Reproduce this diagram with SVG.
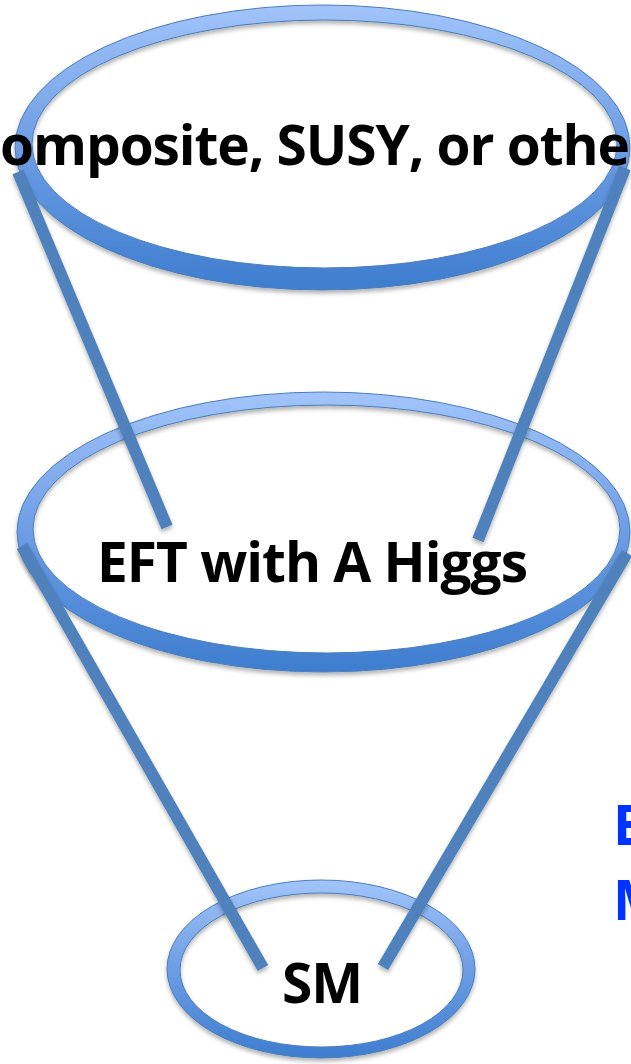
<svg xmlns="http://www.w3.org/2000/svg" width="631" height="1064" viewBox="0 0 631 1064">
<defs>
<linearGradient id="ringGrad" x1="0" y1="0" x2="0" y2="1">
<stop offset="0" stop-color="#A2C4FA"/>
<stop offset="0.5" stop-color="#6D9DE4"/>
<stop offset="1" stop-color="#3E7DCF"/>
</linearGradient>
<filter id="shadow" x="-5%" y="-5%" width="110%" height="115%">
<feDropShadow dx="0" dy="3" stdDeviation="2" flood-color="#000" flood-opacity="0.3"/>
</filter>
</defs>
<style>
.ring{fill:url(#ringGrad);fill-rule:evenodd;stroke:#4A7EBB;stroke-width:1;filter:url(#shadow)}
.conn{stroke:#4F81BD;stroke-width:12;fill:none;filter:url(#shadow)}
.lbl{font-family:"Open Sans","Liberation Sans",sans-serif;font-weight:bold;font-size:55px;fill:#000}
.blue{font-family:"Open Sans","Liberation Sans",sans-serif;font-weight:bold;font-size:55px;fill:#0033FF}
</style>
<rect width="631" height="1064" fill="#fff"/>
<g id="node-top">
<path class="ring" d="M15,147.5 a307.5,142.5 0 1,0 615,0 a307.5,142.5 0 1,0 -615,0 Z M32,144 a292.5,124 0 1,0 585,0 a292.5,124 0 1,0 -585,0 Z"/>
</g>
<g id="node-eft">
<path class="ring" d="M17,532 a306.5,140 0 1,0 613,0 a306.5,140 0 1,0 -613,0 Z M33,529 a293.5,124 0 1,0 587,0 a293.5,124 0 1,0 -587,0 Z"/>
</g>
<g id="node-sm">
<path class="ring" d="M167,969 a154,89 0 1,0 308,0 a154,89 0 1,0 -308,0 Z M180,970 a141.5,77 0 1,0 283,0 a141.5,77 0 1,0 -283,0 Z"/>
</g>
<g id="connectors">
<line class="conn" x1="18" y1="172" x2="167" y2="527"/>
<line class="conn" x1="625" y1="168" x2="478" y2="540"/>
<line class="conn" x1="22" y1="546" x2="263" y2="968"/>
<line class="conn" x1="627" y1="553" x2="383" y2="967"/>
</g>
<g id="labels">
<text class="lbl" x="0" y="165" textLength="630">omposite, SUSY, or othe</text>
<text class="lbl" x="97" y="582" textLength="431">EFT with A Higgs</text>
<text class="lbl" x="282" y="1003" textLength="81">SM</text>
<text class="blue" x="613" y="845">E</text>
<text class="blue" x="613" y="920">M</text>
</g>
</svg>
